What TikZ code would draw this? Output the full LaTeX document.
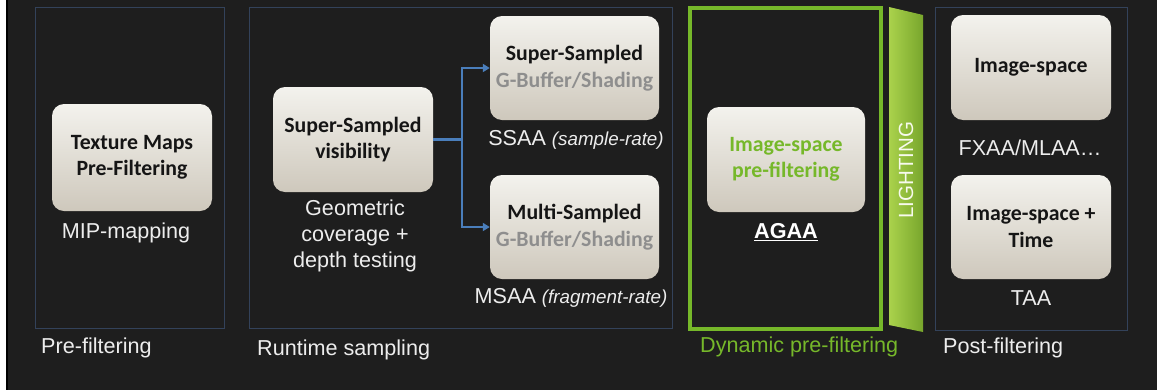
\documentclass[tikz,border=0pt]{standalone}
\usepackage{fontspec}
\setmainfont{Liberation Sans}
\newfontfamily\boxfont{Carlito}
\usetikzlibrary{arrows.meta}
\definecolor{bg}{HTML}{1E1E1E}
\definecolor{colframe}{HTML}{33425A}
\definecolor{nvgreen}{HTML}{76B82A}
\definecolor{boxtop}{HTML}{F3F2ED}
\definecolor{boxbot}{HTML}{CEC8BC}
\definecolor{boxtext}{HTML}{151515}
\definecolor{subgray}{HTML}{8E8E8E}
\definecolor{arrblue}{HTML}{4A7EBB}
\definecolor{lightL}{HTML}{AAD24C}
\definecolor{lightR}{HTML}{78A62C}
\definecolor{labelgray}{HTML}{EDEDED}
\newcommand{\itl}[1]{{\fontsize{18.8}{26}\selectfont\itshape #1}}
\begin{document}
\begin{tikzpicture}[x=1pt,y=-1pt,
  colbox/.style={draw=colframe,line width=1pt},
  techbox/.style={rounded corners=12pt,top color=boxtop,bottom color=boxbot,
    draw=none,inner sep=0pt,align=center,text=boxtext,
    font=\boxfont\bfseries\fontsize{21.8}{26.5}\selectfont},
  lbl/.style={text=labelgray,inner sep=0pt,align=center,
    font=\fontsize{21.6}{26}\selectfont},
  cat/.style={text=labelgray,inner sep=0pt,anchor=west,
    font=\fontsize{21.6}{26}\selectfont},
  conn/.style={draw=arrblue,line width=2.6pt},
  arr/.style={conn,-{Triangle[length=7pt,width=8pt]}}
]
\useasboundingbox (0,0) rectangle (1157,389);
\fill[bg] (-3,-3) rectangle (1160,392);
\fill[white] (-3,-3) rectangle (6,392);
\fill[black] (6,-3) rectangle (8,392);

% column frames
\draw[colbox] (35,7) rectangle (224,328);
\draw[colbox] (249,7) rectangle (672,328);
\draw[colbox] (935,7) rectangle (1127,330);
\draw[draw=nvgreen,line width=4pt] (690,8) rectangle (881,329);

% lighting band
\shade[left color=lightL,right color=lightR] (889,7) -- (923,15) -- (923,332) -- (889,325) -- cycle;
\node[rotate=90,inner sep=0pt,text=white!90!lightL,font=\fontsize{20.5}{24}\selectfont] (light) at (906,170) {LIGHTING};

% pre-filtering
\node[techbox,minimum width=160pt,minimum height=107pt] (tex) at (132,157.5) {Texture Maps\\Pre-Filtering};
\node[lbl] (mip) at (126,233) {MIP-mapping};
\node[cat] (cpre) at (41,348) {Pre-filtering};

% runtime sampling
\node[techbox,minimum width=160pt,minimum height=105pt] (vis) at (353,139.5) {Super-Sampled\\visibility};
\node[lbl] (geo) at (355,236) {Geometric\\coverage +\\depth testing};
\node[techbox,minimum width=169pt,minimum height=104pt] (ss) at (574.5,68) {Super-Sampled\\\textcolor{subgray}{G-Buffer/Shading}};
\node[lbl] (ssaa) at (576,140) {SSAA \itl{(sample-rate)}};
\node[techbox,minimum width=169pt,minimum height=104pt] (ms) at (574.5,227) {Multi-Sampled\\\textcolor{subgray}{G-Buffer/Shading}};
\node[lbl] (msaa) at (571,298) {MSAA \itl{(fragment-rate)}};
\node[cat] (crun) at (257,350) {Runtime sampling};
\coordinate (j) at (462,139.5);
\draw[conn] (vis.east) -- (j);
\draw[arr] (j) |- (ss.west);
\draw[arr] (j) |- (ms.west);

% dynamic pre-filtering
\node[techbox,minimum width=158pt,minimum height=105pt,text=nvgreen] (isp) at (786,159.5) {Image-space\\pre-filtering};
\node[lbl,text=white,font=\bfseries\fontsize{21.6}{26}\selectfont] (agaa) at (786,232) {\underline{AGAA}};
\node[cat,text=nvgreen] (cdyn) at (700,347) {Dynamic pre-filtering};

% post-filtering
\node[techbox,minimum width=160pt,minimum height=105pt] (img) at (1031,67.5) {Image-space};
\node[lbl] (fx) at (1030,148) {FXAA/MLAA…};
\node[techbox,minimum width=160pt,minimum height=104pt] (imt) at (1031,227) {Image-space +\\Time};
\node[lbl] (taa) at (1031,298) {TAA};
\node[cat] (cpost) at (943,348) {Post-filtering};
\end{tikzpicture}
\end{document}
